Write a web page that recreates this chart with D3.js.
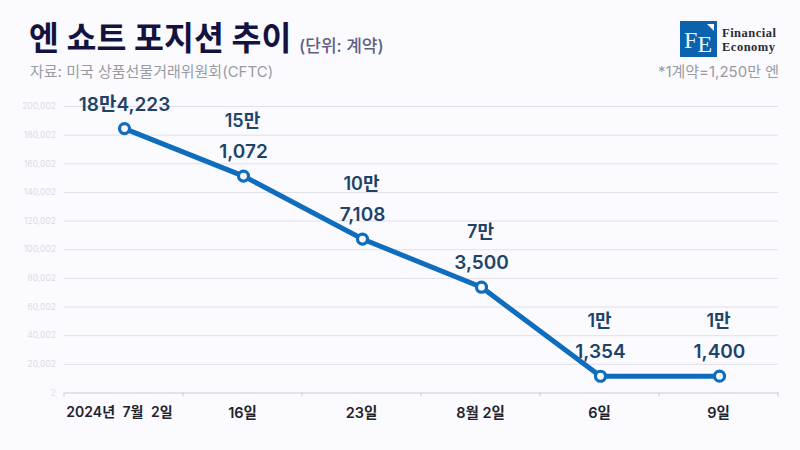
<!DOCTYPE html>
<html>
<head>
<meta charset="utf-8">
<script src="https://cdn.jsdelivr.net/npm/d3@7"></script>
<style>
  html, body { margin: 0; padding: 0; background: #fafaff; }
  svg { display: block; }
  text { font-family: Inter, "Noto Sans CJK KR", sans-serif; }
  .serif { font-family: "Liberation Serif", serif; }
</style>
</head>
<body>
<script>
// x axis labels
var categories = ["2024년 7월 2일", "16일", "23일", "8월 2일", "6일", "9일"];
// short positions (contracts)
var values = [184223, 151072, 107108, 73500, 11354, 11400];
// value labels, first line / second line
var labelTop = ["", "15만", "10만", "7만", "1만", "1만"];
var labelBottom = ["18만4,223", "1,072", "7,108", "3,500", "1,354", "1,400"];
var yTicks = [2, 20002, 40002, 60002, 80002, 100002, 120002, 140002, 160002, 180002, 200002];

var width = 800, height = 450;
var margin = {top: 106, right: 22, bottom: 57.5, left: 64};

var svg = d3.select("body").append("svg")
    .attr("width", width)
    .attr("height", height);

svg.append("rect")
    .attr("width", width)
    .attr("height", height)
    .attr("fill", "#fafaff");

var x = d3.scaleBand()
    .domain(categories)
    .range([margin.left, width - margin.right]);
var y = d3.scaleLinear()
    .domain([2, 200002])
    .range([height - margin.bottom, margin.top]);

// titles
svg.append("text").attr("x", 29).attr("y", 50)
    .attr("font-size", 32.5).attr("font-weight", 700).attr("fill", "#14123f")
    .text("엔 쇼트 포지션 추이");
svg.append("text").attr("x", 299).attr("y", 52)
    .attr("font-size", 17).attr("font-weight", 500).attr("fill", "#5f6080")
    .text("(단위: 계약)");
svg.append("text").attr("x", 30).attr("y", 77)
    .attr("font-size", 15).attr("fill", "#9a9aa2")
    .text("자료: 미국 상품선물거래위원회(CFTC)");
svg.append("text").attr("x", 779).attr("y", 77).attr("text-anchor", "end")
    .attr("font-size", 15).attr("fill", "#9a9aa2")
    .text("*1계약=1,250만 엔");

// logo
var logo = svg.append("g");
logo.append("rect").attr("x", 680).attr("y", 21).attr("width", 37).attr("height", 36).attr("fill", "#0b63ad");
logo.append("path").attr("d", "M707 24L714 24L714 31Z").attr("fill", "#fff");
logo.append("text").attr("class", "serif").attr("x", 684).attr("y", 48)
    .attr("font-size", 24).attr("fill", "#e6f6fb").text("F");
logo.append("text").attr("class", "serif").attr("x", 697.5).attr("y", 52)
    .attr("font-size", 24).attr("fill", "#e6f6fb").text("E");
logo.append("text").attr("class", "serif").attr("x", 722).attr("y", 36.5)
    .attr("font-weight", 700).attr("font-size", 12.5).attr("letter-spacing", 0.5).attr("fill", "#2a2a33").text("Financial");
logo.append("text").attr("class", "serif").attr("x", 722).attr("y", 51)
    .attr("font-weight", 700).attr("font-size", 12.5).attr("letter-spacing", 0.5).attr("fill", "#2a2a33").text("Economy");

// y axis with gridlines
var yAxis = svg.append("g")
    .attr("transform", "translate(" + margin.left + ",0)")
    .call(d3.axisLeft(y).tickValues(yTicks).tickFormat(d3.format(",")).tickSize(0).tickPadding(8));
yAxis.select(".domain").remove();
yAxis.selectAll("text")
    .attr("font-size", 8.5)
    .attr("fill", "#dcdce4");
yAxis.selectAll(".tick").filter(function(d) { return d > 2; }).append("line")
    .attr("x1", 0)
    .attr("x2", width - margin.left - margin.right)
    .attr("stroke", "#dfe0ea")
    .attr("stroke-width", 1);

// x axis
var xAxis = svg.append("g")
    .attr("transform", "translate(0," + y(2) + ")")
    .call(d3.axisBottom(x).tickSize(0).tickPadding(15));
xAxis.select(".domain").attr("stroke", "#c8cad8").attr("stroke-width", 1);
xAxis.selectAll("text")
    .attr("font-size", 14.5)
    .attr("font-weight", 600)
    .attr("fill", "#22222c");
// first label has wider word gaps and sits a little left of its band centre
xAxis.selectAll("text").filter(function(d, i) { return i === 0; })
    .attr("font-size", 14)
    .attr("dx", -4)
    .style("word-spacing", "4px");
// tick marks sit on the band edges
xAxis.selectAll(".band-edge")
    .data(categories.concat(["end"]))
    .enter().append("line")
    .attr("class", "band-edge")
    .attr("x1", function(d, i) { return margin.left + i * x.bandwidth(); })
    .attr("x2", function(d, i) { return margin.left + i * x.bandwidth(); })
    .attr("y1", 0)
    .attr("y2", 4)
    .attr("stroke", "#c8cad8");

function cx(i) { return x(categories[i]) + x.bandwidth() / 2 + 1; }

// line
var line = d3.line()
    .x(function(d, i) { return cx(i); })
    .y(function(d) { return y(d); });
svg.append("path")
    .datum(values)
    .attr("fill", "none")
    .attr("stroke", "#0f6dbd")
    .attr("stroke-width", 5)
    .attr("d", line);

// points
svg.selectAll(".pt")
    .data(values)
    .enter().append("circle")
    .attr("class", "pt")
    .attr("cx", function(d, i) { return cx(i); })
    .attr("cy", function(d) { return y(d); })
    .attr("r", 5)
    .attr("fill", "#fafaff")
    .attr("stroke", "#0f6dbd")
    .attr("stroke-width", 3.2);

// value labels
svg.selectAll(".lab-top")
    .data(values)
    .enter().append("text")
    .attr("class", "lab-top")
    .attr("x", function(d, i) { return cx(i) - 1; })
    .attr("y", function(d) { return y(d) - 49; })
    .attr("text-anchor", "middle")
    .attr("font-size", 18)
    .attr("font-weight", 600)
    .attr("fill", "#1d4468")
    .text(function(d, i) { return labelTop[i]; });
svg.selectAll(".lab-bottom")
    .data(values)
    .enter().append("text")
    .attr("class", "lab-bottom")
    .attr("x", function(d, i) { return cx(i); })
    .attr("y", function(d) { return y(d) - 18; })
    .attr("text-anchor", "middle")
    .attr("font-size", 19)
    .attr("font-weight", 600)
    .attr("fill", "#1d4468")
    .text(function(d, i) { return labelBottom[i]; });
</script>
</body>
</html>
